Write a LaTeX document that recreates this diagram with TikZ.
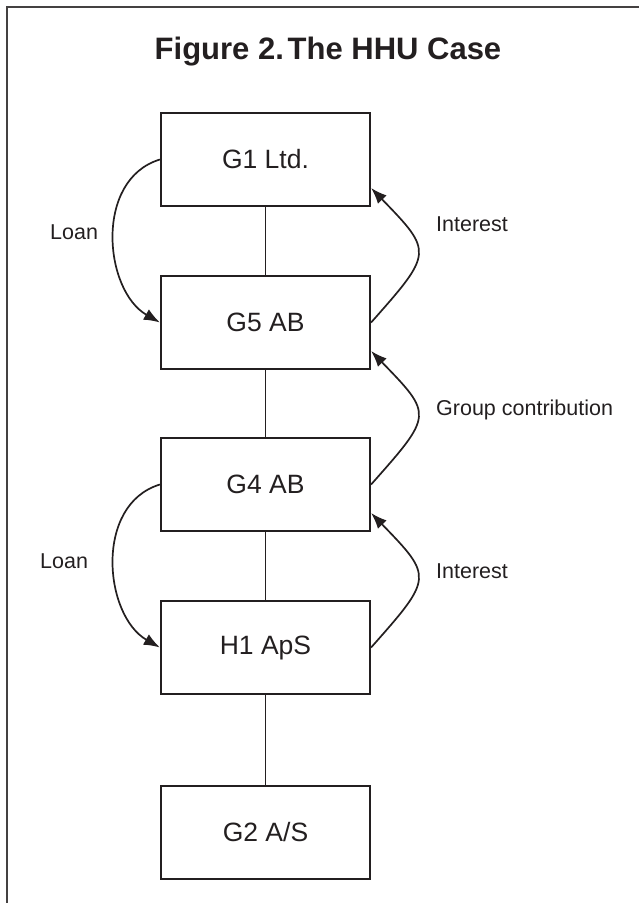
\documentclass[tikz,border=0pt]{standalone}
\usepackage{fontspec}
\setmainfont{Liberation Sans}
\usetikzlibrary{arrows.meta}
\definecolor{ink}{HTML}{231F20}
\begin{document}
\begin{tikzpicture}[x=1pt,y=-1pt,
  entity/.style={draw=ink, line width=2.2pt, minimum width=209pt, minimum height=93pt,
    inner sep=0pt, font=\fontsize{26.5}{30}\selectfont, text=ink},
  link/.style={draw=ink, line width=1.7pt},
  flow/.style={draw=ink, line width=1.7pt, -{Latex[length=16pt,width=12pt]}},
  lbl/.style={font=\fontsize{21.5}{24}\selectfont, text=ink, anchor=base west, inner sep=0pt},
  frameline/.style={draw=ink!85, line width=2pt}]
\useasboundingbox (0,0) rectangle (639,903);
\draw[frameline] (7,903) -- (7,7) -- (639,7);

\node[font=\bfseries\fontsize{31}{36}\selectfont, anchor=base, text=ink, inner sep=0pt] (title) at (328,59) {Figure 2.\hspace{0.12em}The HHU Case};

\node[entity] (g1) at (265.5,159.5) {G1 Ltd.};
\node[entity] (g5) at (265.5,322.5) {G5 AB};
\node[entity] (g4) at (265.5,484.5) {G4 AB};
\node[entity] (h1) at (265.5,647.5) {H1 ApS};
\node[entity] (g2) at (265.5,832.5) {G2 A/S};

\draw[link] (g1) -- (g5);
\draw[link] (g5) -- (g4);
\draw[link] (g4) -- (h1);
\draw[link] (h1) -- (g2);

\coordinate (g1r) at ([yshift=-28.5pt]g1.east);
\coordinate (g5r) at ([yshift=-28.5pt]g5.east);
\coordinate (g4r) at ([yshift=-28.5pt]g4.east);

\draw[flow] (g1.west) .. controls +(-66,20) and +(-56,-32) .. (g5.west);
\draw[flow] (g4.west) .. controls +(-66,20) and +(-56,-32) .. (h1.west);
\draw[flow] (g5.east) .. controls +(62,-70) and +(62,64) .. (g1r);
\draw[flow] (g4.east) .. controls +(62,-70) and +(62,64) .. (g5r);
\draw[flow] (h1.east) .. controls +(62,-70) and +(62,64) .. (g4r);

\node[lbl] (l1) at (50,239) {Loan};
\node[lbl] (i1) at (436,231) {Interest};
\node[lbl] (gc) at (436,415) {Group contribution};
\node[lbl] (l2) at (40,568) {Loan};
\node[lbl] (i2) at (436,578) {Interest};
\end{tikzpicture}
\end{document}
